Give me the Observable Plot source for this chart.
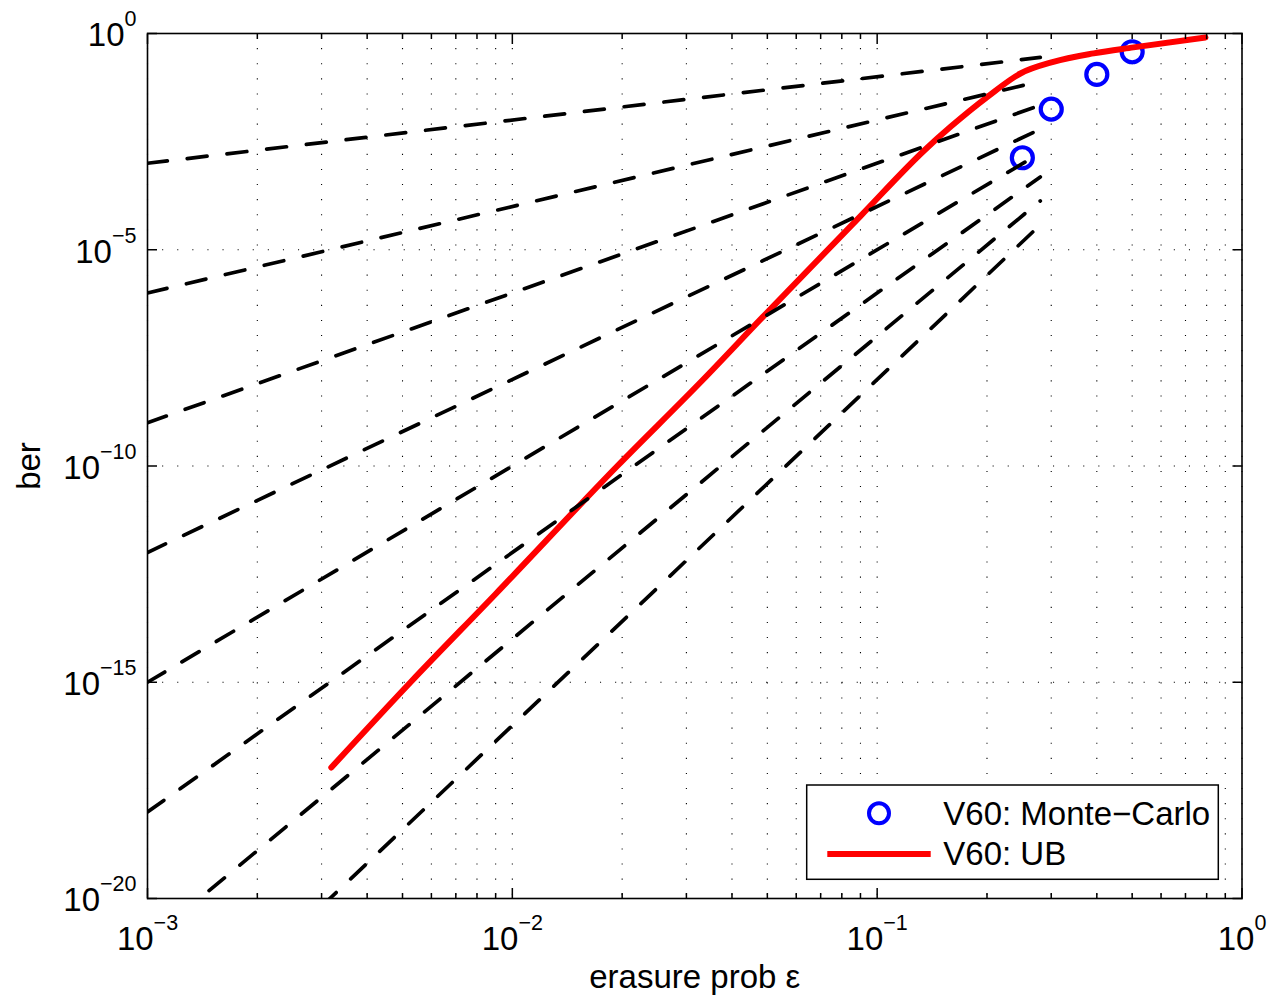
<!DOCTYPE html>
<html>
<head>
<meta charset="utf-8">
<script src="https://cdn.jsdelivr.net/npm/d3@7"></script>
<script src="https://cdn.jsdelivr.net/npm/@observablehq/plot@0.6"></script>
<style>
  body { margin: 0; background: #fff; }
  #chart { width: 1268px; height: 997px; }
</style>
</head>
<body>
<div id="chart"></div>
<script>
// ---- data ----
const mcEps = [0.25, 0.3, 0.4, 0.5];
const mcBer = [1.34e-3, 0.0178, 0.113, 0.378];

const ubEps = [0.00319, 0.00526, 0.0090, 0.0194, 0.0332, 0.0486, 0.090, 0.1348, 0.1589, 0.2006, 0.247, 0.304, 0.392, 0.504, 0.794];
const ubBer = [1.07e-17, 1.0e-15, 1.1e-13, 1.0e-10, 9.6e-9, 2.8e-7, 6e-5, 2.0e-3, 6.95e-3, 0.0343, 0.119, 0.221, 0.347, 0.477, 0.81];

// dashed reference lines: start / end points
const dashEps = [0.001, 0.28];
const dashIds = [1, 2, 3, 4, 5, 6, 7, 8];
const dashStartBer = [1e-3, 1e-6, 1e-9, 1e-12, 1e-15, 1e-18, 1e-21, 1e-24];
const dashEndBer = [0.28, 0.0784, 0.022, 6.15e-3, 1.72e-3, 4.82e-4, 1.35e-4, 3.78e-5];

const xMajorTicks = [1e-3, 1e-2, 1e-1, 1];
const xMinorTicks = [2e-3, 3e-3, 4e-3, 5e-3, 6e-3, 7e-3, 8e-3, 9e-3,
                     2e-2, 3e-2, 4e-2, 5e-2, 6e-2, 7e-2, 8e-2, 9e-2,
                     2e-1, 3e-1, 4e-1, 5e-1, 6e-1, 7e-1, 8e-1, 9e-1];
const yMajorTicks = [1e-20, 1e-15, 1e-10, 1e-5, 1];

const legendLabels = ["V60: Monte\u2212Carlo", "V60: UB"];
const xLabel = "erasure prob \u03b5";
const yLabel = "ber";

// ---- tables ----
const mc = mcEps.map((e, i) => ({eps: e, ber: mcBer[i]}));
const ub = ubEps.map((e, i) => ({eps: e, ber: ubBer[i]}));
const dash = dashIds.flatMap((k, i) => [
  {k, eps: dashEps[0], ber: dashStartBer[i]},
  {k, eps: dashEps[1], ber: dashEndBer[i]}
]);

const FONT = "'Liberation Sans', Arial, Helvetica, sans-serif";
const FS = 33;
const fmt = d => {
  const e = Math.round(Math.log10(d));
  return "10^" + (e < 0 ? "\u2212" + (-e) : String(e));
};
const grid = {stroke: "#000", strokeOpacity: 1, strokeWidth: 1.1, strokeDasharray: "1.1,14"};

const plot = Plot.plot({
  width: 1268,
  height: 997,
  marginLeft: 147,
  marginRight: 26.5,
  marginTop: 33,
  marginBottom: 99,
  style: {fontFamily: FONT, fontSize: FS + "px", background: "#fff", color: "#000"},
  x: {type: "log", domain: [1e-3, 1]},
  y: {type: "log", domain: [1e-20, 1]},
  marks: [
    Plot.gridX([...xMajorTicks, ...xMinorTicks], grid),
    Plot.gridY(yMajorTicks, grid),
    Plot.dot(mc, {x: "eps", y: "ber", r: 10.5, stroke: "#0000ff", strokeWidth: 4.2, fill: "none"}),
    Plot.line(ub, {x: "eps", y: "ber", stroke: "#ff0000", strokeWidth: 6, curve: "monotone-x", clip: true}),
    Plot.line(dash, {x: "eps", y: "ber", z: "k", stroke: "#000", strokeWidth: 3.7, strokeDasharray: "20,20", clip: true}),
    Plot.frame({stroke: "#000", strokeWidth: 1.6}),
    // inward ticks
    Plot.axisX(xMajorTicks, {anchor: "bottom", tickSize: -10, fill: "none", label: null, strokeWidth: 1.5}),
    Plot.axisX(xMinorTicks, {anchor: "bottom", tickSize: -5, fill: "none", label: null, strokeWidth: 1.5}),
    Plot.axisX(xMajorTicks, {anchor: "top", tickSize: -10, fill: "none", label: null, strokeWidth: 1.5}),
    Plot.axisX(xMinorTicks, {anchor: "top", tickSize: -5, fill: "none", label: null, strokeWidth: 1.5}),
    Plot.axisY(yMajorTicks, {anchor: "left", tickSize: -10, fill: "none", label: null, strokeWidth: 1.5}),
    Plot.axisY(yMajorTicks, {anchor: "right", tickSize: -10, fill: "none", label: null, strokeWidth: 1.5}),
    // tick labels
    Plot.axisX(xMajorTicks, {anchor: "bottom", tickSize: 0, tickPadding: 28, tickFormat: fmt, fontSize: FS, label: null}),
    Plot.axisY(yMajorTicks, {anchor: "left", tickSize: 0, tickPadding: 11, tickFormat: fmt, fontSize: FS, dy: 2.2, label: null}),
    // axis titles
    Plot.text([xLabel], {text: d => d, frameAnchor: "bottom", textAnchor: "middle", lineAnchor: "middle", dy: 79.4, fontSize: FS}),
    Plot.text([yLabel], {text: d => d, frameAnchor: "left", textAnchor: "middle", lineAnchor: "middle", rotate: -90, dx: -117.6, fontSize: FS})
  ]
});

document.getElementById("chart").appendChild(plot);
const svgEl = plot.tagName.toLowerCase() === "svg" ? plot : plot.querySelector("svg");
const svg = d3.select(svgEl);

// superscript exponents in tick labels
svg.selectAll("text").each(function() {
  const t = this.textContent;
  if (t.startsWith("10^")) {
    const exp = t.slice(3);
    this.textContent = "10";
    d3.select(this).append("tspan").attr("dy", -20).attr("font-size", 21.5).text(exp);
  }
});

// legend
const lg = svg.append("g").attr("font-family", FONT).attr("font-size", FS).attr("text-anchor", "start");
lg.append("rect").attr("x", 806.7).attr("y", 785).attr("width", 411.6).attr("height", 94.3)
  .attr("fill", "#fff").attr("stroke", "#000").attr("stroke-width", 1.5);
lg.append("circle").attr("cx", 879).attr("cy", 813.3).attr("r", 10)
  .attr("fill", "none").attr("stroke", "#0000ff").attr("stroke-width", 4);
lg.append("line").attr("x1", 827.3).attr("x2", 930.7).attr("y1", 854).attr("y2", 854)
  .attr("stroke", "#ff0000").attr("stroke-width", 6);
lg.append("text").attr("x", 943.3).attr("y", 825).attr("fill", "#000").attr("text-anchor", "start").text(legendLabels[0]);
lg.append("text").attr("x", 943.3).attr("y", 865).attr("fill", "#000").attr("text-anchor", "start").text(legendLabels[1]);
</script>
</body>
</html>
